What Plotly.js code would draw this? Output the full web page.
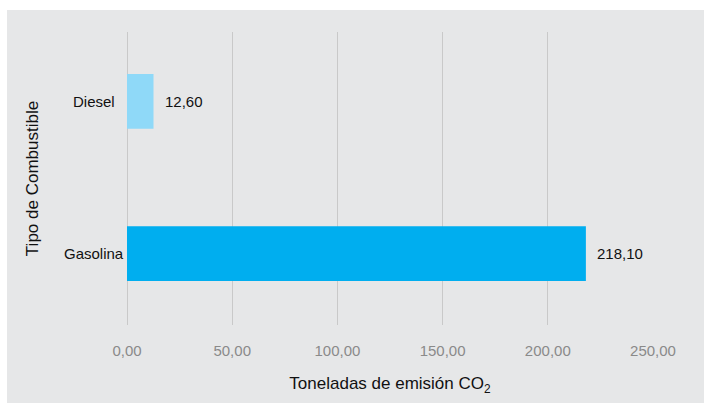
<!DOCTYPE html>
<html>
<head>
<meta charset="utf-8">
<script src="https://cdn.plot.ly/plotly-3.0.1.min.js"></script>
<style>
  html, body { margin: 0; padding: 0; background: #ffffff; width: 704px; height: 403px; overflow: hidden; }
  #chart { position: absolute; left: 7px; top: 10px; width: 697px; height: 393px; }
</style>
</head>
<body>
<div id="chart"></div>
<script>
// Emisiones de CO2 por tipo de combustible
const categories = ['Gasolina', 'Diesel'];
const emissions = [218.10, 12.60];
const barColors = ['#00aeef', '#8fd9f8'];
const xTicks = [0, 50, 100, 150, 200, 250];

const fmt = v => v.toFixed(2).replace('.', ',');

const trace = {
  type: 'bar',
  orientation: 'h',
  y: categories,
  x: emissions,
  width: 0.36,
  marker: { color: barColors },
  hoverinfo: 'none'
};

// Etiquetas de valor junto a cada barra
const valueLabels = categories.map((c, i) => ({
  x: emissions[i], y: c, xref: 'x', yref: 'y',
  text: fmt(emissions[i]), showarrow: false,
  xanchor: 'left', yanchor: 'middle', xshift: 9,
  font: { family: 'Liberation Sans, Arial, sans-serif', size: 15, color: '#111111' }
}));

// Nombres de categoría centrados a la izquierda del eje
const categoryLabels = categories.map(c => ({
  x: -0.0627, y: c, xref: 'paper', yref: 'y',
  text: c, showarrow: false,
  xanchor: 'center', yanchor: 'middle',
  font: { family: 'Liberation Sans, Arial, sans-serif', size: 15, color: '#111111' }
}));

const layout = {
  width: 697, height: 393,
  margin: { l: 120, r: 51, t: 22, b: 78 },
  paper_bgcolor: '#e6e7e8',
  plot_bgcolor: '#e6e7e8',
  separators: ',.',
  showlegend: false,
  font: { family: 'Liberation Sans, Arial, sans-serif' },
  xaxis: {
    range: [0, 250],
    tickvals: xTicks,
    tickformat: '.2f',
    showgrid: true,
    gridcolor: '#c9c9c9',
    gridwidth: 1,
    zeroline: true,
    zerolinecolor: '#c9c9c9',
    zerolinewidth: 1,
    showline: false,
    ticks: 'outside',
    ticklen: 12,
    tickcolor: 'rgba(0,0,0,0)',
    tickfont: { size: 15, color: '#8a8a8a' },
    automargin: false,
    title: {
      text: 'Toneladas de emisión CO<sub>2</sub>',
      font: { size: 17, color: '#111111' },
      standoff: 19
    }
  },
  yaxis: {
    type: 'category',
    categoryorder: 'array',
    categoryarray: categories,
    range: [-0.47, 1.457],
    showgrid: false,
    zeroline: false,
    showline: false,
    showticklabels: false,
    ticks: '',
    automargin: false,
    title: {
      text: 'Tipo de Combustible',
      font: { size: 17, color: '#111111' },
      standoff: 83
    }
  },
  annotations: valueLabels.concat(categoryLabels)
};

Plotly.newPlot('chart', [trace], layout, { staticPlot: true, displayModeBar: false });
</script>
</body>
</html>
